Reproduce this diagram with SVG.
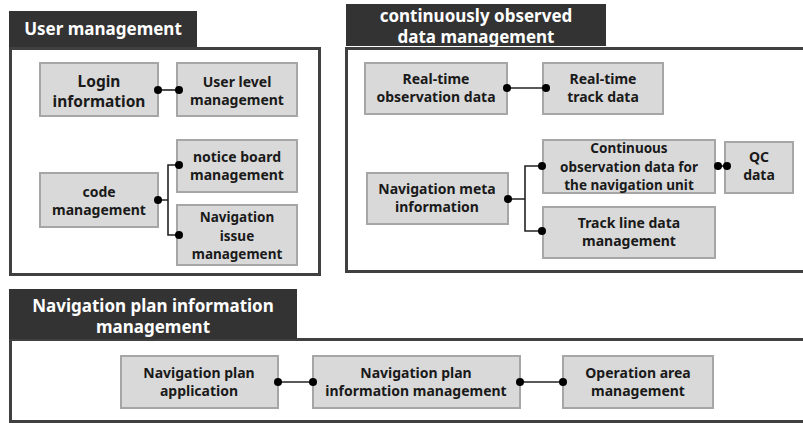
<svg xmlns="http://www.w3.org/2000/svg" width="803" height="423" viewBox="0 0 803 423">
<style>
.hdr{fill:#333333}
.frame{fill:#ffffff;stroke:#404040;stroke-width:3}
.box{fill:#d9d9d9;stroke:#a6a6a6;stroke-width:2}
.t{font-family:"Noto Sans","Liberation Sans",sans-serif;font-weight:bold;font-size:14px;fill:#1a1a1a;text-anchor:middle}
.t3{font-size:13.5px}
.tl{font-size:15.5px}
.ht{font-family:"Noto Sans","Liberation Sans",sans-serif;font-weight:bold;font-size:17px;fill:#ffffff;text-anchor:middle}
.ln{fill:none;stroke:#222;stroke-width:1.6}
.dot{fill:#000}
</style>
<rect width="803" height="423" fill="#ffffff"/>

<g id="sec-user">
<rect class="frame" x="10.5" y="48.5" width="309" height="226"/>
<rect class="hdr" x="9" y="11" width="188" height="36"/>
<text class="ht" x="103" y="35">User management</text>
</g>
<g id="sec-cont">
<rect class="frame" x="346.5" y="48.5" width="460" height="223"/>
<rect class="hdr" x="346" y="4" width="260" height="42"/>
<text class="ht" x="476" y="22">continuously observed</text>
<text class="ht" x="476" y="43">data management</text>
</g>
<g id="sec-plan">
<rect class="frame" x="10.5" y="339.5" width="796" height="82"/>
<rect class="hdr" x="9" y="289" width="288" height="50"/>
<text class="ht" x="153" y="312">Navigation plan information</text>
<text class="ht" x="153" y="333">management</text>
</g>

<g id="login"><rect class="box" x="40" y="63" width="118" height="53"/><text class="t tl" x="99" y="87">Login</text><text class="t tl" x="99" y="107">information</text></g>
<g id="userlevel"><rect class="box" x="177" y="63" width="120" height="53"/><text class="t" x="237" y="87">User level</text><text class="t" x="237" y="105">management</text></g>
<g id="notice"><rect class="box" x="177" y="140" width="120" height="52"/><text class="t" x="237" y="162">notice board</text><text class="t" x="237" y="180">management</text></g>
<g id="code"><rect class="box" x="40" y="173" width="118" height="54"/><text class="t" x="99" y="197">code</text><text class="t" x="99" y="215">management</text></g>
<g id="navissue"><rect class="box" x="177" y="205" width="120" height="60"/><text class="t t3" x="237" y="222">Navigation</text><text class="t t3" x="237" y="240.5">issue</text><text class="t t3" x="237" y="259">management</text></g>

<g id="rtobs"><rect class="box" x="365" y="63" width="142" height="51"/><text class="t" x="436" y="84">Real-time</text><text class="t" x="436" y="102">observation data</text></g>
<g id="rttrack"><rect class="box" x="543" y="63" width="120" height="51"/><text class="t" x="603" y="84">Real-time</text><text class="t" x="603" y="102">track data</text></g>
<g id="contobs"><rect class="box" x="543" y="140" width="172" height="53"/><text class="t t3" x="629" y="153">Continuous</text><text class="t t3" x="629" y="171.5">observation data for</text><text class="t t3" x="629" y="190">the navigation unit</text></g>
<g id="qc"><rect class="box" x="725" y="142" width="68" height="51"/><text class="t" x="759" y="162">QC</text><text class="t" x="759" y="180">data</text></g>
<g id="navmeta"><rect class="box" x="367" y="173" width="141" height="51"/><text class="t" x="437" y="194">Navigation meta</text><text class="t" x="437" y="212">information</text></g>
<g id="trackline"><rect class="box" x="543" y="207" width="172" height="51"/><text class="t" x="629" y="228">Track line data</text><text class="t" x="629" y="246">management</text></g>

<g id="planapp"><rect class="box" x="121" y="356" width="157" height="52"/><text class="t" x="199" y="378">Navigation plan</text><text class="t" x="199" y="396">application</text></g>
<g id="planinfo"><rect class="box" x="313" y="356" width="207" height="52"/><text class="t" x="416" y="378">Navigation plan</text><text class="t" x="416" y="396">information management</text></g>
<g id="oparea"><rect class="box" x="563" y="356" width="150" height="52"/><text class="t" x="638" y="378">Operation area</text><text class="t" x="638" y="396">management</text></g>

<g id="connectors">
<path class="ln" d="M158 90H179"/>
<circle class="dot" cx="158" cy="90" r="4"/><circle class="dot" cx="179" cy="90" r="4"/>
<path class="ln" d="M158 200H168M179 165H168V235H179"/>
<circle class="dot" cx="158" cy="200" r="4"/><circle class="dot" cx="179" cy="165" r="4"/><circle class="dot" cx="179" cy="235" r="4"/>
<path class="ln" d="M507 88H546"/>
<circle class="dot" cx="507" cy="88" r="4"/><circle class="dot" cx="546" cy="88" r="4"/>
<path class="ln" d="M508 199H525M542 166H525V231H542"/>
<circle class="dot" cx="508" cy="199" r="4"/><circle class="dot" cx="542" cy="166" r="4"/><circle class="dot" cx="542" cy="231" r="4"/>
<path class="ln" d="M718 166H727"/>
<circle class="dot" cx="718" cy="166" r="4"/><circle class="dot" cx="727" cy="166" r="4"/>
<path class="ln" d="M278 382H313"/>
<circle class="dot" cx="278" cy="382" r="4"/><circle class="dot" cx="313" cy="382" r="4"/>
<path class="ln" d="M520 382H563"/>
<circle class="dot" cx="520" cy="382" r="4"/><circle class="dot" cx="563" cy="382" r="4"/>
</g>
</svg>
